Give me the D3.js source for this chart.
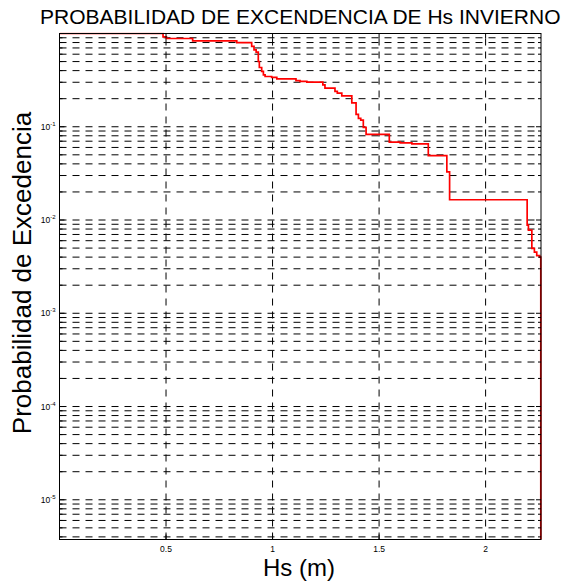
<!DOCTYPE html>
<html><head><meta charset="utf-8">
<script src="https://cdn.jsdelivr.net/npm/d3@7"></script>
<style>body{margin:0;background:#fff;} svg{display:block;font-family:"Liberation Sans",Arial,Helvetica,sans-serif;}</style>
</head><body>
<svg id="c" width="565" height="585"></svg>
<script>
// Step curve: after hs[i] the exceedance probability is prob[i]
const hs   = [0, 0.486, 0.502, 0.625, 0.832, 0.902, 0.913, 0.923, 0.933, 0.938, 0.949, 0.957, 0.965, 0.996, 1.020, 1.110, 1.129, 1.161, 1.236, 1.246, 1.293, 1.304, 1.325, 1.372, 1.392, 1.403, 1.414, 1.426, 1.439, 1.548, 1.599, 1.654, 1.731, 1.818, 1.831, 2.195, 2.201, 2.217, 2.229, 2.240, 2.254, 2.259];
const prob = [1, 0.920, 0.884, 0.833, 0.797, 0.726, 0.667, 0.630, 0.501, 0.432, 0.392, 0.360, 0.346, 0.338, 0.326, 0.313, 0.306, 0.301, 0.281, 0.259, 0.239, 0.229, 0.214, 0.180, 0.136, 0.123, 0.118, 0.0983, 0.0827, 0.0684, 0.0672, 0.0656, 0.0490, 0.0329, 0.0165, 0.00881, 0.00780, 0.00497, 0.00453, 0.00415, 0.00400, 1e-7];
const xTicks = [0.5, 1, 1.5, 2];
const xTickLabels = ["0.5", "1", "1.5", "2"];
const yDecadeExp = [-1, -2, -3, -4, -5];
const xDomain = [0, 2.26];
const yDomain = [3.75e-6, 1];
const title = "PROBABILIDAD DE EXCENDENCIA DE Hs INVIERNO";
const xLabel = "Hs (m)";
const yLabel = "Probabilidad de Excedencia";

const L = 59.5, T = 33.5, R = 541, B = 539.5;
const svg = d3.select("#c");
const x = d3.scaleLinear().domain(xDomain).range([L, R]);
const y = d3.scaleLog().domain(yDomain).range([B, T]);

// all 1..9 x 10^k values inside domain
const yAll = [];
for (let k = -6; k <= 0; k++) for (let m = 1; m <= 9; m++) {
  const v = m * Math.pow(10, k);
  if (v >= yDomain[0] && v <= yDomain[1] * 1.0000001) yAll.push(v);
}

const dash = "7,6";
const g = svg.append("g");
// horizontal grid
g.selectAll("line.hg").data(yAll.filter(v => v < 0.999)).join("line")
  .attr("x1", L).attr("x2", R).attr("y1", d => y(d)).attr("y2", d => y(d))
  .attr("stroke", "#000").attr("stroke-width", 1).attr("stroke-dasharray", dash);
// vertical grid
g.selectAll("line.vg").data(xTicks).join("line")
  .attr("x1", d => x(d)).attr("x2", d => x(d)).attr("y1", B).attr("y2", T)
  .attr("stroke", "#000").attr("stroke-width", 1).attr("stroke-dasharray", dash);

// data line
svg.append("clipPath").attr("id", "clip").append("rect")
  .attr("x", L).attr("y", T - 1).attr("width", R - L + 1).attr("height", B - T + 1);
const pts = hs.map((h, i) => [h, prob[i]]);
svg.append("path").attr("clip-path", "url(#clip)")
  .attr("d", d3.line().x(d => x(d[0])).y(d => y(Math.max(d[1], 1e-9))).curve(d3.curveStepAfter)(pts))
  .attr("fill", "none").attr("stroke", "#ff0000").attr("stroke-width", 1.7);

// box
svg.append("rect").attr("x", L).attr("y", T).attr("width", R - L).attr("height", B - T)
  .attr("fill", "none").attr("stroke", "#000").attr("stroke-width", 1);

// ticks
const tk = svg.append("g").attr("stroke", "#000").attr("stroke-width", 1);
yAll.forEach(v => {
  const isMajor = Math.abs(Math.log10(v) - Math.round(Math.log10(v))) < 1e-9;
  const len = isMajor ? 5 : 3;
  tk.append("line").attr("x1", L).attr("x2", L + len).attr("y1", y(v)).attr("y2", y(v));
  tk.append("line").attr("x1", R).attr("x2", R - len).attr("y1", y(v)).attr("y2", y(v));
});
xTicks.forEach(v => {
  tk.append("line").attr("x1", x(v)).attr("x2", x(v)).attr("y1", B).attr("y2", B - 5);
  tk.append("line").attr("x1", x(v)).attr("x2", x(v)).attr("y1", T).attr("y2", T + 5);
});

// y tick labels
yDecadeExp.forEach(e => {
  const t = svg.append("text").attr("x", L - 4).attr("y", y(Math.pow(10, e)) + 3)
    .attr("text-anchor", "end").attr("font-size", 8.5).attr("fill", "#000");
  t.append("tspan").text("10");
  t.append("tspan").attr("dy", -4).attr("font-size", 6).text("-" + Math.abs(e));
});
// x tick labels
svg.selectAll("text.xt").data(xTicks).join("text")
  .attr("x", d => x(d)).attr("y", 552).attr("text-anchor", "middle")
  .attr("font-size", 8.5).attr("fill", "#000").text((d, i) => xTickLabels[i]);

// title & labels
svg.append("text").attr("x", (L + R) / 2).attr("y", 24).attr("text-anchor", "middle")
  .attr("font-size", 21).attr("fill", "#000").text(title);
svg.append("text").attr("x", 299).attr("y", 576).attr("text-anchor", "middle")
  .attr("font-size", 24).attr("fill", "#000").text(xLabel);
svg.append("text").attr("transform", "translate(31,273) rotate(-90)").attr("text-anchor", "middle")
  .attr("font-size", 26).attr("fill", "#000").text(yLabel);
</script>
</body></html>
